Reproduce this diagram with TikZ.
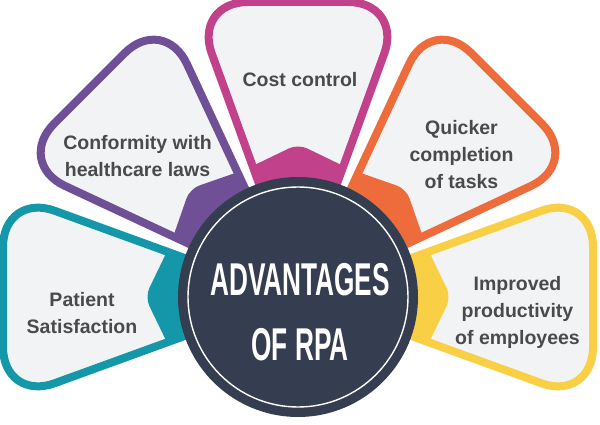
\documentclass[tikz,border=0pt]{standalone}
\usepackage{fontspec}
\setmainfont{Liberation Sans}
\usepackage{graphicx}
\definecolor{cpurple}{HTML}{6F4F96}
\definecolor{cmagenta}{HTML}{C2418B}
\definecolor{corange}{HTML}{EE6C3B}
\definecolor{cyellow}{HTML}{F9CF46}
\definecolor{cteal}{HTML}{1497A8}
\definecolor{cdark}{HTML}{353D50}
\definecolor{clight}{HTML}{F2F3F5}
\definecolor{ctext}{HTML}{4A4A4A}
\newcommand\petalshape{[rounded corners=55pt] (6,0) -- (295,105) -- (295,-105) -- cycle}
\newcommand\petalkite{[rounded corners=10pt] (0,0) -- (124,60) -- (153,0) -- (124,-60) -- cycle}
\tikzset{
  label/.style={text=ctext, font=\fontsize{19.5}{27}\selectfont\bfseries, align=center, inner sep=0pt},
  title/.style={text=white, font=\fontsize{46}{50}\selectfont\bfseries, inner sep=0pt, anchor=base},
  petal/.pic={
    \fill[clight] \petalshape;
    \begin{scope}
      \clip \petalshape;
      \fill[#1] \petalkite;
    \end{scope}
    \draw[#1, line width=8pt] \petalshape;
  }
}
\begin{document}
\begin{tikzpicture}[x=1pt,y=1pt]
\useasboundingbox (0,0) rectangle (600,424);
\coordinate (c) at (298,127);
\pic[rotate=180] at (c) {petal=cteal};
\pic[rotate=135] at (c) {petal=cpurple};
\pic[rotate=90] at (c) {petal=cmagenta};
\pic[rotate=45] at (c) {petal=corange};
\pic[rotate=0] at (c) {petal=cyellow};
\node[circle, fill=cdark, minimum size=240pt, inner sep=0pt] (hub) at (c) {};
\node[circle, draw=white, line width=1.4pt, minimum size=220pt, inner sep=0pt] (ring) at (c) {};
\node[title] (t1) at (300,129) {\scalebox{0.57}[1]{ADVANTAGES}};
\node[title] (t2) at (300,64) {\scalebox{0.57}[1]{OF RPA}};
\node[label] (l1) at (82,110.5) {Patient\\Satisfaction};
\node[label] (l2) at (137.5,267.5) {Conformity with\\healthcare laws};
\node[label] (l3) at (300,344) {Cost control};
\node[label] (l4) at (461.5,269) {Quicker\\completion\\of tasks};
\node[label] (l5) at (517.5,111.5) {Improved\\productivity\\of employees};
\end{tikzpicture}
\end{document}
